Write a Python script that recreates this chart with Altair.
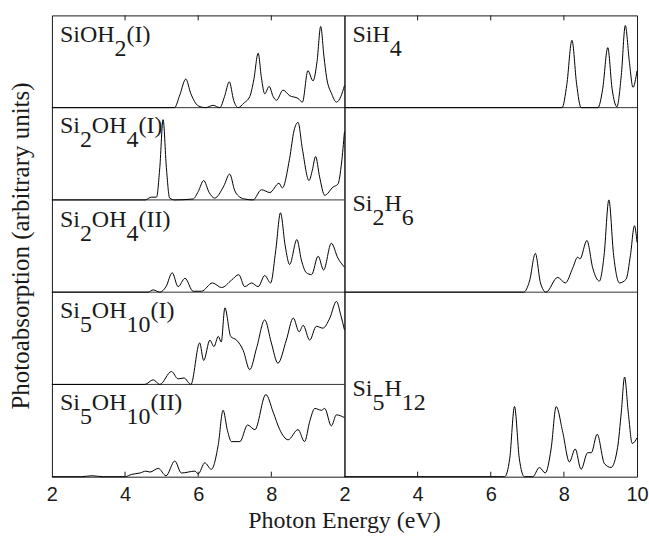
import altair as alt
import pandas as pd

# ---------------- data ----------------
X_LABELS_LEFT = [2, 4, 6, 8]
X_LABELS_RIGHT = [2, 4, 6, 8, 10]
INNER_TICKS = [4, 6, 8]

X_TITLE = "Photon Energy (eV)"
Y_TITLE = "Photoabsorption (arbitrary units)"

# SiOH2(I)
sioh2_i_e = [2.0, 5.35, 5.5, 5.66, 5.8, 6.0, 6.2, 6.41, 6.59, 6.72, 6.85, 6.97, 7.09, 7.25, 7.41,
             7.52, 7.64, 7.73, 7.82, 7.94, 8.05, 8.14, 8.32, 8.5, 8.73, 8.85, 9.0, 9.14, 9.25, 9.35,
             9.44, 9.51, 9.65, 9.78, 9.9, 10.0]
sioh2_i_a = [0, 0, 0.14, 0.31, 0.15, 0.02, 0.0, 0.025, 0, 0.12, 0.28, 0.08, 0, 0.05, 0.12,
             0.3, 0.59, 0.32, 0.15, 0.23, 0.12, 0.08, 0.19, 0.13, 0.10, 0.06, 0.40, 0.29, 0.5, 0.88,
             0.55, 0.33, 0.15, 0.06, 0.12, 0.24]

# Si2OH4(I)
si2oh4_i_e = [2.0, 4.55, 4.72, 4.86, 4.95, 5.04, 5.13, 5.22, 5.36, 5.86, 6.0, 6.15, 6.3, 6.45, 6.7,
              6.86, 7.0, 7.14, 7.27, 7.5, 7.73, 7.96, 8.21, 8.3, 8.5, 8.62, 8.73, 8.85, 9.03, 9.12,
              9.21, 9.32, 9.46, 9.69, 9.82, 9.92, 10.0]
si2oh4_i_a = [0, 0, 0.03, 0.03, 0.35, 0.87, 0.35, 0.02, 0, 0.01, 0.09, 0.21, 0.08, 0.02, 0.15,
              0.28, 0.1, 0.03, 0.01, 0, 0.11, 0.08, 0.18, 0.13, 0.45, 0.75, 0.84, 0.55, 0.21, 0.32,
              0.47, 0.25, 0.05, 0.14, 0.17, 0.4, 0.74]

# Si2OH4(II)
si2oh4_ii_e = [2.0, 4.63, 4.77, 4.95, 5.12, 5.29, 5.45, 5.64, 5.86, 6.09, 6.39, 6.64, 6.91, 7.11,
               7.27, 7.46, 7.64, 7.82, 7.98, 8.12, 8.25, 8.38, 8.5, 8.7, 8.82, 8.96, 9.1, 9.28,
               9.43, 9.64, 9.82, 10.0]
si2oh4_ii_a = [0, 0, 0.025, 0, 0.06, 0.21, 0.06, 0.15, 0.01, 0.01, 0.10, 0.05, 0.13, 0.19,
               0.06, 0.10, 0.06, 0.18, 0.10, 0.45, 0.86, 0.5, 0.30, 0.57, 0.35, 0.21, 0.19, 0.39,
               0.24, 0.53, 0.37, 0.27]

# Si5OH10(I)
si5oh10_i_e = [2.0, 4.54, 4.77, 4.95, 5.27, 5.45, 5.61, 5.8, 6.04, 6.15, 6.32, 6.43, 6.55, 6.63,
               6.73, 6.89, 7.05, 7.23, 7.41, 7.6, 7.82, 8.0, 8.18, 8.41, 8.6, 8.76, 8.87, 9.05,
               9.23, 9.41, 9.6, 9.78, 9.9, 10.0]
si5oh10_i_a = [0, 0, 0.05, 0, 0.14, 0.06, 0.07, 0, 0.45, 0.26, 0.48, 0.41, 0.52, 0.46,
               0.83, 0.52, 0.48, 0.37, 0.16, 0.4, 0.70, 0.45, 0.23, 0.48, 0.72, 0.57, 0.64, 0.48,
               0.63, 0.61, 0.72, 0.90, 0.75, 0.59]

# Si5OH10(II)
si5oh10_ii_e = [2.0, 2.8, 3.1, 3.4, 4.0, 4.18, 4.41, 4.57, 4.68, 4.91, 5.12, 5.36, 5.54, 5.91, 6.0,
                6.18, 6.36, 6.55, 6.68, 6.8, 6.91, 7.14, 7.35, 7.55, 7.85, 8.05, 8.23, 8.46, 8.73,
                8.91, 9.05, 9.19, 9.37, 9.46, 9.64, 9.78, 10.0]
si5oh10_ii_a = [0, 0, 0.01, 0, 0, 0.025, 0.04, 0.06, 0.05, 0.09, 0.01, 0.17, 0.04, 0.06, 0.03,
                0.15, 0.08, 0.35, 0.72, 0.5, 0.38, 0.38, 0.56, 0.51, 0.89, 0.70, 0.51, 0.40, 0.51,
                0.38, 0.6, 0.74, 0.72, 0.74, 0.55, 0.67, 0.64]

# SiH4
sih4_e = [2.0, 7.95, 8.08, 8.22, 8.35, 8.47, 8.93, 9.06, 9.2, 9.32, 9.45, 9.57, 9.68, 9.79, 9.89, 10.0]
sih4_a = [0, 0, 0.25, 0.73, 0.25, 0, 0, 0.2, 0.65, 0.2, 0.01, 0.35, 0.89, 0.5, 0.22, 0.40]

# Si2H6
si2h6_e = [2.0, 6.9, 7.06, 7.22, 7.36, 7.51, 7.83, 8.04, 8.24, 8.38, 8.44, 8.63, 8.79, 8.97, 9.1,
           9.23, 9.36, 9.52, 9.7, 9.82, 9.93, 10.0]
si2h6_a = [0, 0, 0.06, 0.21, 0.05, 0, 0.08, 0.05, 0.13, 0.19, 0.18, 0.28, 0.13, 0.06, 0.2,
           0.50, 0.2, 0.05, 0.07, 0.2, 0.36, 0.27]

# Si5H12
si5h12_e = [2.0, 6.38, 6.52, 6.65, 6.78, 6.92, 7.15, 7.33, 7.49, 7.65, 7.79, 7.97, 8.15, 8.31, 8.47,
            8.65, 8.75, 8.91, 9.11, 9.29, 9.47, 9.57, 9.66, 9.76, 9.87, 10.0]
si5h12_a = [0, 0, 0.1, 0.38, 0.1, 0, 0, 0.05, 0.02, 0.15, 0.38, 0.24, 0.08, 0.15, 0.04,
            0.13, 0.13, 0.23, 0.07, 0.05, 0.16, 0.35, 0.54, 0.35, 0.18, 0.21]

# panel labels: (text, is_subscript)
LBL_SIOH2_I = [("SiOH", 0), ("2", 1), ("(I)", 0)]
LBL_SI2OH4_I = [("Si", 0), ("2", 1), ("OH", 0), ("4", 1), ("(I)", 0)]
LBL_SI2OH4_II = [("Si", 0), ("2", 1), ("OH", 0), ("4", 1), ("(II)", 0)]
LBL_SI5OH10_I = [("Si", 0), ("5", 1), ("OH", 0), ("10", 1), ("(I)", 0)]
LBL_SI5OH10_II = [("Si", 0), ("5", 1), ("OH", 0), ("10", 1), ("(II)", 0)]
LBL_SIH4 = [("SiH", 0), ("4", 1)]
LBL_SI2H6 = [("Si", 0), ("2", 1), ("H", 0), ("6", 1)]
LBL_SI5H12 = [("Si", 0), ("5", 1), ("H", 0), ("12", 1)]

# ---------------- styling ----------------
SERIF = "Liberation Serif"
SANS = "Liberation Sans"
INK = "#1a1a1a"
W = 293
H = 462
HS = H / 5.0
LABEL_SIZE = 24
GLYPH_W = {"S": 556, "i": 278, "O": 722, "H": 722, "(": 333, ")": 333, "I": 333}
for d in "0123456789":
    GLYPH_W[d] = 500


def x_enc(field, labels):
    scale = alt.Scale(domain=[2, 10], nice=False, zero=False)
    return alt.X(f"{field}:Q", scale=scale,
                 axis=alt.Axis(values=labels, ticks=False, domain=False, grid=False,
                               labelFont=SANS, labelFontSize=20, labelColor=INK,
                               labelPadding=8, labelFlush=False, labelOverlap=False,
                               format="d", title=None))


Y_SCALE = alt.Scale(domain=[0, 5], nice=False, zero=False)


def label_layers(segs, x0, base_y, sub_dy=14):
    out = []
    x = x0
    for text, sub in segs:
        out.append(
            alt.Chart(pd.DataFrame({"t": [text]}))
            .mark_text(align="left", baseline="alphabetic", font=SERIF,
                       fontSize=LABEL_SIZE, color=INK)
            .encode(x=alt.value(x), y=alt.value(base_y + (sub_dy if sub else 0)), text="t:N")
        )
        x += sum(GLYPH_W[c] for c in text) * LABEL_SIZE / 1000.0
    return out


def column(series, separators, labels, x_labels, extra=()):
    # series: (name, energies, values, offset, span) — offset/span in panel units
    frames = []
    for name, e, a, off, span in series:
        frames.append(pd.DataFrame({"panel": name, "E": e, "A": a, "off": off, "span": span}))
    df = pd.concat(frames, ignore_index=True)
    line = (
        alt.Chart(df)
        .transform_calculate(Y="datum.off + datum.span * datum.A")
        .mark_line(color="black", strokeWidth=1, interpolate="monotone")
        .encode(x=x_enc("E", x_labels),
                y=alt.Y("Y:Q", scale=Y_SCALE, axis=None),
                detail="panel:N")
    )
    seps = (
        alt.Chart(pd.DataFrame({"b": separators}))
        .mark_rule(color="#333333", strokeWidth=1)
        .encode(y=alt.Y("b:Q", scale=Y_SCALE, axis=None), x=alt.value(0), x2=alt.value(W))
    )
    tdf = pd.DataFrame({"t": INNER_TICKS})
    top_ticks = alt.Chart(tdf).mark_rule(color=INK, strokeWidth=1).encode(
        x=x_enc("t", x_labels), y=alt.value(0), y2=alt.value(5))
    bot_ticks = alt.Chart(tdf).mark_rule(color=INK, strokeWidth=1).encode(
        x=x_enc("t", x_labels), y=alt.value(H - 5), y2=alt.value(H))
    layers = [seps, line, top_ticks, bot_ticks]
    for segs, base_y in labels:
        layers += label_layers(segs, 8, base_y)
    layers += list(extra)
    return alt.layer(*layers).properties(width=W, height=H)


one = pd.DataFrame({"g": [0]})
guard_tl = alt.Chart(one).mark_rule(opacity=0).encode(
    x=alt.value(-51.5), x2=alt.value(-51.5), y=alt.value(-14.5), y2=alt.value(0))
guard_br = alt.Chart(one).mark_rule(opacity=0).encode(
    x=alt.value(W + 10.5), x2=alt.value(W + 10.5), y=alt.value(H), y2=alt.value(H + 63.5))

y_title = alt.Chart(pd.DataFrame({"t": [Y_TITLE]})).mark_text(
    angle=270, align="center", baseline="alphabetic", font=SERIF, fontSize=25, color=INK
).encode(x=alt.value(-22.5), y=alt.value(H / 2), text="t:N")

x_title = alt.Chart(pd.DataFrame({"t": [X_TITLE]})).mark_text(
    align="center", baseline="alphabetic", font=SERIF, fontSize=24, color=INK
).encode(x=alt.value(0), y=alt.value(H + 51), text="t:N")

left = column(
    [("SiOH2(I)", sioh2_i_e, sioh2_i_a, 4, 1),
     ("Si2OH4(I)", si2oh4_i_e, si2oh4_i_a, 3, 1),
     ("Si2OH4(II)", si2oh4_ii_e, si2oh4_ii_a, 2, 1),
     ("Si5OH10(I)", si5oh10_i_e, si5oh10_i_a, 1, 1),
     ("Si5OH10(II)", si5oh10_ii_e, si5oh10_ii_a, 0, 1)],
    [1, 2, 3, 4],
    [(LBL_SIOH2_I, 27), (LBL_SI2OH4_I, HS + 25), (LBL_SI2OH4_II, 2 * HS + 27),
     (LBL_SI5OH10_I, 3 * HS + 26), (LBL_SI5OH10_II, 4 * HS + 26)],
    X_LABELS_LEFT,
    extra=[y_title, guard_tl],
)

right = column(
    [("SiH4", sih4_e, sih4_a, 4, 1),
     ("Si2H6", si2h6_e, si2h6_a, 2, 2),
     ("Si5H12", si5h12_e, si5h12_a, 0, 2)],
    [2, 4],
    [(LBL_SIH4, 27), (LBL_SI2H6, HS + 104), (LBL_SI5H12, 3 * HS + 104)],
    X_LABELS_RIGHT,
    extra=[x_title, guard_br],
)

chart = (
    alt.hconcat(left, right, spacing=0, bounds="flush")
    .properties(padding=0, background="white")
    .configure_view(stroke=INK, strokeWidth=1)
)

chart.save("out.html", embed_options={"renderer": "svg", "actions": False})
